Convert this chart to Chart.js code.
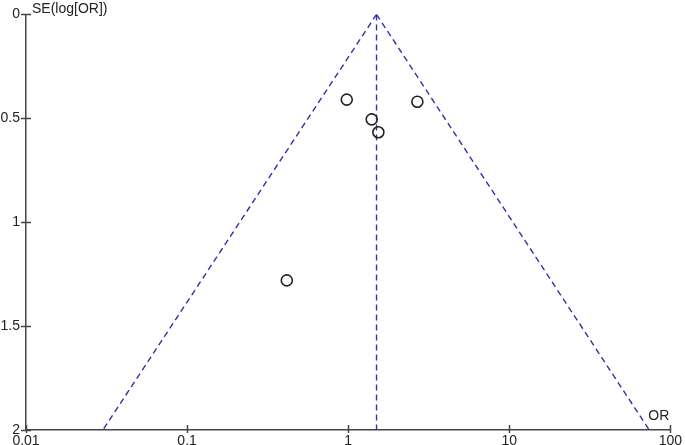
<!DOCTYPE html>
<html lang="en">
<head>
<meta charset="UTF-8">
<title>Funnel plot</title>
<script src="https://cdn.jsdelivr.net/npm/chart.js"></script>
<style>
    body { margin: 0; background: #ffffff; }
    #wrap { width: 685px; height: 445px; position: relative; }
</style>
</head>
<body>
<div id="wrap"><canvas id="funnelChart"></canvas></div>
<script>
    // study estimates
    const studyOR = [0.98, 2.69, 1.40, 1.54, 0.416];
    const studySE = [0.41, 0.42, 0.505, 0.567, 1.28];

    // pooled estimate and pseudo 95% limits (end points)
    const pooledOR = 1.50;
    const funnelLeftOR = [1.50, 0.030];
    const funnelRightOR = [1.50, 74];
    const funnelSE = [0, 2];

    const xTicks = [0.01, 0.1, 1, 10, 100];
    const xTickLabels = ['0.01', '0.1', '1', '10', '100'];
    const yTicks = [0, 0.5, 1, 1.5, 2];
    const yTickLabels = ['0', '0.5', '1', '1.5', '2'];

    const axisColor = '#444444';
    const lineColor = '#3030aa';
    const fontFamily = '"Liberation Sans", Arial, sans-serif';

    const extrasPlugin = {
        id: 'extras',
        afterDraw(chart) {
            const ctx = chart.ctx;
            const xs = chart.scales.x, ys = chart.scales.y;
            const area = chart.chartArea;
            ctx.save();
            ctx.strokeStyle = axisColor;
            ctx.lineWidth = 1.5;
            ctx.beginPath();
            xTicks.forEach(v => {
                const px = Math.round(xs.getPixelForValue(v)) + 0.5;
                ctx.moveTo(px, area.bottom - 5);
                ctx.lineTo(px, area.bottom + 3);
            });
            yTicks.forEach(v => {
                const py = Math.round(ys.getPixelForValue(v)) + 0.5;
                ctx.moveTo(area.left - 5, py);
                ctx.lineTo(area.left + 5, py);
            });
            ctx.stroke();
            ctx.fillStyle = '#222222';
            ctx.font = '14px ' + fontFamily;
            ctx.textBaseline = 'alphabetic';
            ctx.textAlign = 'left';
            ctx.fillText('SE(log[OR])', area.left + 6, area.top - 1);
            ctx.textAlign = 'right';
            ctx.fillText('OR', area.right - 1, area.bottom - 10);
            ctx.restore();
        }
    };

    new Chart(document.getElementById('funnelChart'), {
        type: 'scatter',
        data: {
            datasets: [
                {
                    label: 'Studies',
                    data: studyOR.map((v, i) => ({ x: v, y: studySE[i] })),
                    pointRadius: 5.5,
                    pointBorderWidth: 1.6,
                    pointBorderColor: '#222222',
                    pointBackgroundColor: 'rgba(0,0,0,0)',
                    showLine: false
                },
                {
                    label: 'Left limit',
                    data: funnelLeftOR.map((v, i) => ({ x: v, y: funnelSE[i] })),
                    showLine: true,
                    borderColor: lineColor,
                    borderWidth: 1.4,
                    borderDash: [6, 4],
                    pointRadius: 0
                },
                {
                    label: 'Right limit',
                    data: funnelRightOR.map((v, i) => ({ x: v, y: funnelSE[i] })),
                    showLine: true,
                    borderColor: lineColor,
                    borderWidth: 1.4,
                    borderDash: [6, 4],
                    pointRadius: 0
                },
                {
                    label: 'Pooled',
                    data: funnelSE.map(s => ({ x: pooledOR, y: s })),
                    showLine: true,
                    borderColor: lineColor,
                    borderWidth: 1.4,
                    borderDash: [6, 4],
                    pointRadius: 0
                }
            ]
        },
        options: {
            responsive: true,
            maintainAspectRatio: false,
            animation: false,
            layout: { padding: { top: 14, right: 12, left: 0, bottom: 0 } },
            plugins: {
                legend: { display: false },
                tooltip: { enabled: false }
            },
            scales: {
                x: {
                    type: 'logarithmic',
                    min: 0.01,
                    max: 100,
                    afterBuildTicks: s => { s.ticks = xTicks.map(v => ({ value: v })); },
                    afterFit: s => { s.height = 15; },
                    grid: { display: false, drawTicks: false },
                    border: { display: true, color: axisColor, width: 1.5 },
                    ticks: {
                        color: '#222222',
                        padding: 3,
                        maxRotation: 0,
                        autoSkip: false,
                        font: { family: fontFamily, size: 14 },
                        callback: (v) => xTickLabels[xTicks.indexOf(v)] ?? ''
                    }
                },
                y: {
                    type: 'linear',
                    reverse: true,
                    min: 0,
                    max: 2,
                    afterBuildTicks: s => { s.ticks = yTicks.map(v => ({ value: v })); },
                    afterFit: s => { s.width = 26; },
                    grid: { display: false, drawTicks: false },
                    border: { display: true, color: axisColor, width: 1.5 },
                    ticks: {
                        color: '#222222',
                        padding: 6,
                        autoSkip: false,
                        font: { family: fontFamily, size: 14 },
                        callback: (v) => yTickLabels[yTicks.indexOf(v)] ?? ''
                    }
                }
            }
        },
        plugins: [extrasPlugin]
    });
</script>
</body>
</html>
